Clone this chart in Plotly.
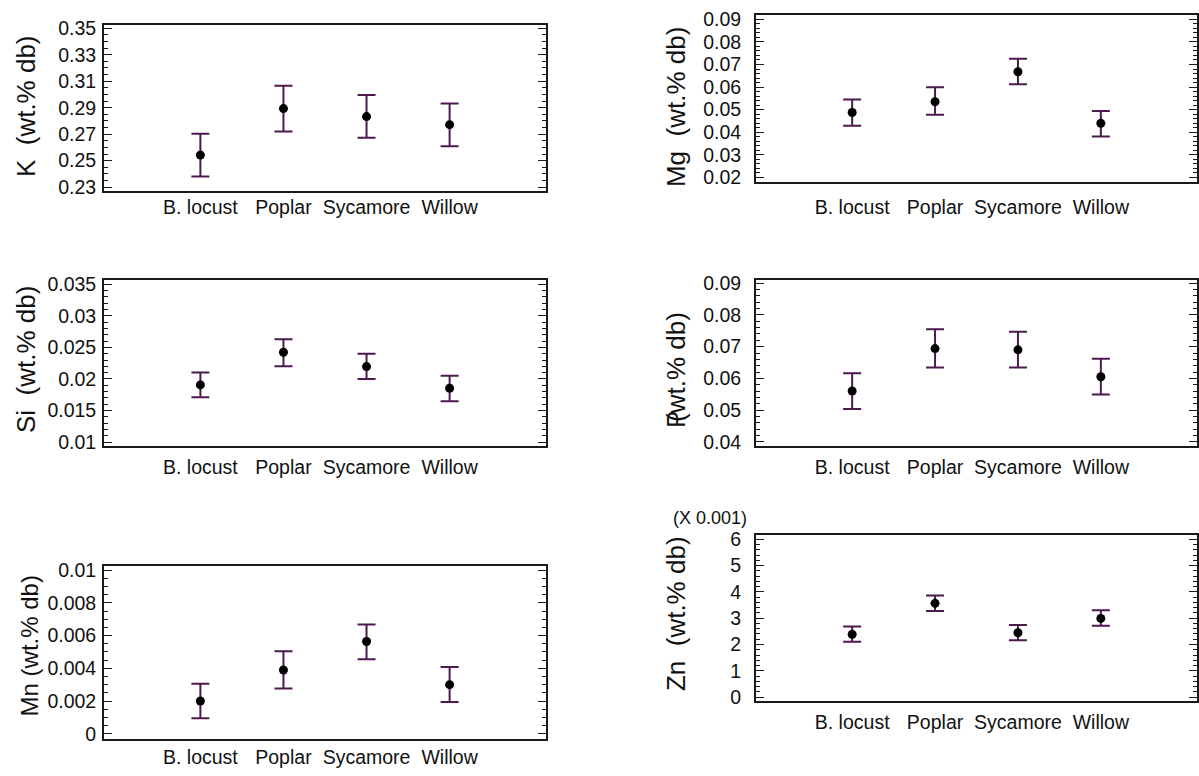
import numpy as np
import plotly.graph_objects as go

# ---------------- data ----------------
species = ["B. locust", "Poplar", "Sycamore", "Willow"]

K_mean = [0.2542, 0.2893, 0.2833, 0.2772]
K_lo = [0.2381, 0.2720, 0.2673, 0.2609]
K_hi = [0.2703, 0.3065, 0.2996, 0.2932]

Mg_mean = [0.0487, 0.0535, 0.0668, 0.0439]
Mg_lo = [0.0429, 0.0477, 0.0612, 0.0381]
Mg_hi = [0.0545, 0.0599, 0.0726, 0.0494]

Si_mean = [0.01906, 0.02423, 0.02196, 0.01854]
Si_lo = [0.01709, 0.02200, 0.01999, 0.01647]
Si_hi = [0.02103, 0.02630, 0.02398, 0.02051]

P_mean = [0.0560, 0.0694, 0.0690, 0.0605]
P_lo = [0.0503, 0.0634, 0.0634, 0.0549]
P_hi = [0.06165, 0.07546, 0.07474, 0.0662]

Mn_mean = [0.0020, 0.0039, 0.00564, 0.0030]
Mn_lo = [0.00094, 0.00276, 0.00456, 0.00194]
Mn_hi = [0.00306, 0.00504, 0.00668, 0.00408]

# Zn in units of 0.001 wt.%
Zn_mean = [2.385, 3.565, 2.447, 2.99]
Zn_lo = [2.10, 3.27, 2.16, 2.71]
Zn_hi = [2.68, 3.86, 2.745, 3.30]

K_ticks = [0.23, 0.25, 0.27, 0.29, 0.31, 0.33, 0.35]
K_labels = ["0.23", "0.25", "0.27", "0.29", "0.31", "0.33", "0.35"]
Mg_ticks = [0.02, 0.03, 0.04, 0.05, 0.06, 0.07, 0.08, 0.09]
Mg_labels = ["0.02", "0.03", "0.04", "0.05", "0.06", "0.07", "0.08", "0.09"]
Si_ticks = [0.01, 0.015, 0.02, 0.025, 0.03, 0.035]
Si_labels = ["0.01", "0.015", "0.02", "0.025", "0.03", "0.035"]
P_ticks = [0.04, 0.05, 0.06, 0.07, 0.08, 0.09]
P_labels = ["0.04", "0.05", "0.06", "0.07", "0.08", "0.09"]
Mn_ticks = [0, 0.002, 0.004, 0.006, 0.008, 0.01]
Mn_labels = ["0", "0.002", "0.004", "0.006", "0.008", "0.01"]
Zn_ticks = [0, 1, 2, 3, 4, 5, 6]
Zn_labels = ["0", "1", "2", "3", "4", "5", "6"]

# ---------------- layout helpers ----------------
W, H = 1199, 776
FONT = "Liberation Sans, Arial, sans-serif"
ERR_COLOR = "#4d1a4f"
AX_COLOR = "#1a1a1a"
TXT = "#111111"
TICK_SIZE = 19.5

def px(x):
    return x / W

def py(y):
    return 1 - y / H

panels = [
    # name, mean, lo, hi, ticks, labels, yrange, minor, box(l,r,t,b), ylabelgap, xlabelgap
    ("K", K_mean, K_lo, K_hi, K_ticks, K_labels, [0.2268, 0.3527], 0.005, (104, 546, 17, 187), 2, -3),
    ("Mg", Mg_mean, Mg_lo, Mg_hi, Mg_ticks, Mg_labels, [0.0181, 0.0920], 0.002, (756, 1197, 7, 177), 9, 7),
    ("Si", Si_mean, Si_lo, Si_hi, Si_ticks, Si_labels, [0.00933, 0.03573], 0.001, (104, 546, 277, 447), 2, 2),
    ("P", P_mean, P_lo, P_hi, P_ticks, P_labels, [0.03855, 0.09114], 0.002, (756, 1197, 277, 447), 9, 2),
    ("Mn", Mn_mean, Mn_lo, Mn_hi, Mn_ticks, Mn_labels, [-0.0003, 0.01026], 0.0005, (104, 546, 569, 745), 2, 0),
    ("Zn", Zn_mean, Zn_lo, Zn_hi, Zn_ticks, Zn_labels, [-0.16, 6.175], 0.2, (756, 1197, 537, 707), 9, 2),
]

fig = go.Figure()
xidx = np.arange(len(species))

for i, (name, mean, lo, hi, ticks, labels, yr, minor, box, gap, xgap) in enumerate(panels):
    n = "" if i == 0 else str(i + 1)
    mean = np.array(mean)
    lo = np.array(lo)
    hi = np.array(hi)
    fig.add_trace(go.Scatter(
        x=xidx, y=mean, mode="markers",
        marker=dict(color="black", size=9),
        error_y=dict(type="data", symmetric=False, array=hi - mean, arrayminus=mean - lo,
                     color=ERR_COLOR, thickness=2, width=9),
        xaxis="x" + n, yaxis="y" + n, showlegend=False, hoverinfo="skip",
    ))
    l, r, t, b = box
    fig.layout["xaxis" + n] = dict(
        domain=[px(l), px(r)], anchor="y" + n, range=[-1.16, 4.16],
        tickmode="array", tickvals=list(xidx), ticktext=species, tickangle=0,
        ticks="", showgrid=False, zeroline=False,
        showline=True, mirror=True, linecolor=AX_COLOR, linewidth=1.8,
        tickfont=dict(size=TICK_SIZE, color=TXT, family=FONT),
        ticklabelstandoff=xgap,
    )
    fig.layout["yaxis" + n] = dict(
        domain=[py(b), py(t)], anchor="x" + n, range=yr,
        tickmode="array", tickvals=ticks, ticktext=labels,
        ticks="inside", ticklen=8, tickwidth=1.4, tickcolor=AX_COLOR,
        minor=dict(ticks="inside", dtick=minor, tick0=ticks[0], ticklen=4,
                   tickwidth=1.2, tickcolor=AX_COLOR, showgrid=False),
        showgrid=False, zeroline=False,
        showline=True, mirror="allticks", linecolor=AX_COLOR, linewidth=1.8,
        tickfont=dict(size=TICK_SIZE, color=TXT, family=FONT),
        ticklabelstandoff=gap,
    )

# y-axis titles
titles = [
    ("K  (wt.% db)", 26, 100, 26),
    ("Mg  (wt.% db)", 676, 101, 26),
    ("Si  (wt.% db)", 26, 359, 26),
    ("(wt.% db)", 676, 366, 26),
    ("P", 676, 420, 26),
    ("Mn (wt.% db)", 29, 651, 24),
    ("Zn  (wt.% db)", 676, 618, 26),
]
for text, x, y, size in titles:
    fig.add_annotation(text=text, x=px(x), y=py(y), xref="paper", yref="paper",
                       showarrow=False, textangle=-90, xanchor="center", yanchor="middle",
                       font=dict(size=size, color=TXT, family=FONT))

fig.add_annotation(text="(X 0.001)", x=px(710), y=py(520), xref="paper", yref="paper",
                   showarrow=False, xanchor="center", yanchor="middle",
                   font=dict(size=18, color=TXT, family=FONT))

fig.update_layout(
    width=W, height=H, margin=dict(l=0, r=0, t=0, b=0),
    paper_bgcolor="white", plot_bgcolor="white",
    font=dict(family=FONT, color=TXT),
)

fig.write_html("out.html", config={"displayModeBar": False},
               post_script="document.body.style.margin='0px';")
